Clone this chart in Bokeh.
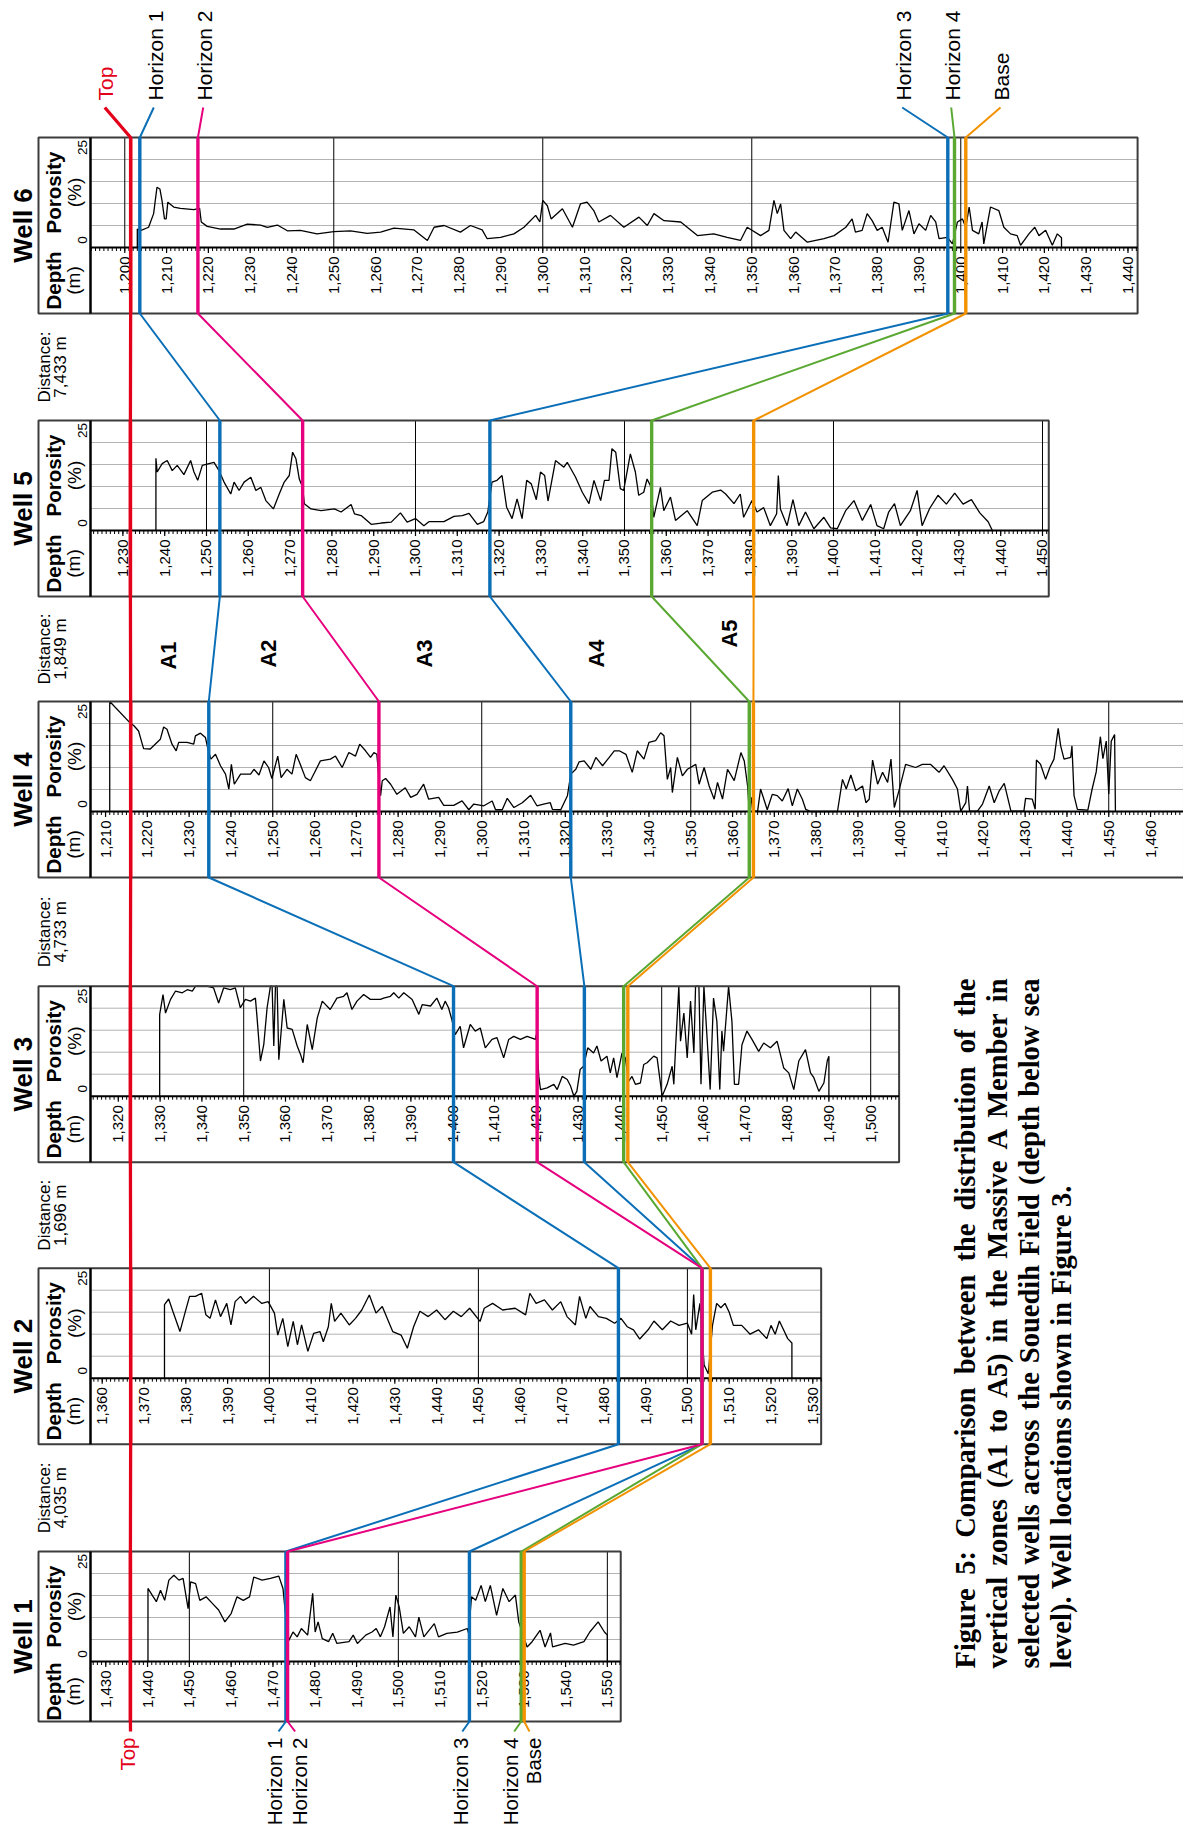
import math
from bokeh.plotting import figure
from bokeh.models import Range1d
from bokeh.embed import file_html
from bokeh.resources import INLINE
from bokeh.core.properties import value

# ----------------------------- data -----------------------------
well_names = ["Well 6", "Well 5", "Well 4", "Well 3", "Well 2", "Well 1"]
distance_labels = ["7,433 m", "1,849 m", "4,733 m", "1,696 m", "4,035 m"]
zone_labels = ["A1", "A2", "A3", "A4", "A5"]
horizon_labels = ["Top", "Horizon 1", "Horizon 2", "Horizon 3", "Horizon 4", "Base"]

# depth-axis extent of every log panel (m)
depth_start = [1191.8, 1222.25, 1206.4, 1313.35, 1357.2, 1426.35]
depth_end = [1442.3, 1451.5, 1468.0, 1506.8, 1532.0, 1553.2]

# horizon picks per well (Well 6 ... Well 1), depth in m
top_d = [1201.4, 1231.8, 1216.0, 1322.9, 1366.8, 1435.9]
h1_d = [1203.6, 1253.2, 1234.7, 1400.2, 1483.5, 1473.1]
h2_d = [1217.5, 1273.0, 1275.4, 1420.2, 1503.5, 1473.5]
h3_d = [1396.9, 1317.8, 1321.3, 1431.5, 1503.5, 1517.0]
h4_d = [1398.5, 1356.5, 1364.0, 1440.9, 1503.5, 1529.4]
base_d = [1401.2, 1380.9, 1365.0, 1441.9, 1505.5, 1530.1]

# porosity logs (depth m, porosity %)
w6_log = [(1203.0,0),(1203.0,4.2),(1203.9,3.9),(1205.7,4.6),(1206.9,7.7),(1207.7,13.7),(1208.4,13.3),(1208.9,10.7),(1209.5,6.5),(1209.9,6.5),(1210.3,10.3),(1211.7,9.2),(1213.3,8.9),(1214.6,8.8),(1216.5,8.6),(1217.9,8.9),(1218.3,5.8),(1219.7,4.8),(1222.9,4.2),(1226.1,4.2),(1229.3,5.3),(1232.5,5.1),(1234.1,4.6),(1236.5,5.1),(1238.9,3.8),(1242.0,3.9),(1246.0,3.1),(1250.0,3.6),(1254.0,3.8),(1258.0,3.2),(1261.2,3.5),(1264.4,4.4),(1269.2,4.0),(1272.4,1.6),(1274.0,4.6),(1276.4,5.0),(1280.3,3.5),(1282.7,5.0),(1285.5,4.0),(1286.7,2.0),(1289.9,2.3),(1293.1,3.1),(1295.5,4.6),(1298.3,7.3),(1299.3,5.8),(1300.0,10.7),(1301.1,9.5),(1302.0,6.5),(1304.7,8.8),(1307.1,4.6),(1309.0,9.9),(1310.6,10.3),(1312.2,8.4),(1313.4,5.8),(1316.2,7.3),(1319.4,4.6),(1323.0,6.9),(1325.0,5.0),(1326.6,7.7),(1329.0,6.1),(1333.0,5.8),(1337.0,2.7),(1340.9,3.1),(1344.1,2.3),(1347.3,1.6),(1348.9,4.6),(1352.1,2.7),(1354.1,3.9),(1355.3,10.7),(1356.1,7.7),(1356.9,9.9),(1357.7,3.9),(1359.3,2.0),(1360.5,3.5),(1363.3,1.2),(1367.3,2.0),(1369.7,2.7),(1372.5,4.6),(1374.0,6.5),(1374.8,3.5),(1376.4,3.9),(1377.6,7.7),(1378.8,6.1),(1380.0,3.9),(1381.2,4.6),(1382.6,1.2),(1384.0,10.3),(1385.2,9.9),(1386.0,3.9),(1387.6,8.4),(1388.8,3.1),(1390.0,5.4),(1391.6,3.9),(1392.8,7.3),(1394.0,5.8),(1394.8,2.0),(1396.8,2.3),(1398.0,0.8),(1399.2,5.8),(1400.4,6.5),(1401.2,4.6),(1402.0,9.2),(1402.8,3.9),(1404.3,3.1),(1405.1,5.8),(1405.5,0.8),(1407.1,9.2),(1409.1,8.4),(1410.3,4.6),(1411.9,3.1),(1413.5,2.7),(1414.3,0.5),(1416.3,3.1),(1417.7,4.6),(1418.7,2.7),(1420.3,3.9),(1421.9,0.5),(1423.1,3.1),(1424.1,2.2),(1424.1,0)]
w5_log = [(1237.9,0),(1237.9,16.4),(1238.2,13.3),(1239.4,15.2),(1240.6,15.9),(1241.8,13.6),(1243.0,14.8),(1244.6,12.7),(1246.2,15.9),(1247.0,13.3),(1247.9,11.4),(1249.0,14.8),(1250.6,15.2),(1251.8,15.5),(1253.0,13.6),(1254.2,11.0),(1255.8,8.3),(1256.6,11.0),(1257.8,9.1),(1259.0,11.0),(1260.6,12.1),(1261.8,9.1),(1263.0,9.8),(1264.2,6.8),(1266.0,4.9),(1267.4,8.3),(1268.6,11.0),(1269.8,12.5),(1270.6,17.8),(1271.4,16.3),(1272.2,11.7),(1273.0,9.8),(1273.4,6.1),(1275.0,4.9),(1277.4,4.5),(1280.6,4.9),(1282.2,4.2),(1284.6,5.9),(1285.4,3.8),(1287.0,3.4),(1289.4,1.4),(1291.8,1.7),(1294.2,1.9),(1296.4,4.0),(1298.0,1.9),(1300.0,2.7),(1302.0,1.1),(1303.2,2.0),(1306.8,2.0),(1309.2,3.2),(1311.2,3.4),(1312.8,3.9),(1314.8,1.4),(1316.3,2.0),(1317.3,4.2),(1318.3,11.0),(1319.5,11.4),(1320.7,12.5),(1321.8,5.3),(1323.1,2.7),(1324.3,7.2),(1325.5,2.7),(1326.6,11.4),(1327.7,10.6),(1328.9,7.0),(1329.9,13.3),(1330.9,12.5),(1331.7,6.7),(1333.5,15.9),(1335.5,14.4),(1336.3,15.5),(1338.3,12.1),(1339.9,8.7),(1341.5,6.1),(1342.7,11.4),(1344.3,6.8),(1345.2,11.4),(1346.3,11.4),(1347.0,18.6),(1347.9,17.8),(1349.0,9.5),(1349.8,9.1),(1351.4,17.4),(1352.6,13.3),(1353.4,8.0),(1354.6,8.7),(1355.4,11.7),(1356.2,10.2),(1357.0,3.0),(1358.6,9.8),(1359.4,4.5),(1361.0,7.6),(1362.2,2.3),(1365.0,4.5),(1367.4,1.1),(1368.6,6.8),(1371.0,8.7),(1373.0,9.2),(1374.2,8.3),(1376.2,6.1),(1377.7,8.3),(1378.5,3.0),(1380.5,6.8),(1381.7,4.2),(1383.3,5.2),(1384.9,1.1),(1386.4,3.8),(1386.8,12.5),(1387.3,4.9),(1388.9,1.1),(1390.3,7.0),(1391.7,1.1),(1393.3,4.2),(1395.3,0.4),(1397.7,3.0),(1399.3,0.6),(1400.9,0.4),(1402.9,4.5),(1404.9,6.8),(1406.9,2.3),(1408.9,5.9),(1410.4,1.1),(1412.0,0.4),(1413.2,4.2),(1414.6,6.1),(1416.0,1.1),(1418.4,4.5),(1420.0,9.1),(1421.2,1.1),(1423.0,5.0),(1425.0,8.0),(1427.0,6.0),(1429.0,8.5),(1431.0,6.0),(1433.0,7.0),(1435.0,4.0),(1437.0,2.0),(1438.0,0)]
w4_log = [(1211.0,0),(1211.0,25.0),(1215.8,20.2),(1216.8,19.5),(1217.9,18.3),(1219.1,14.3),(1220.7,14.2),(1222.3,15.7),(1223.1,16.4),(1223.9,19.2),(1224.7,18.7),(1225.9,15.3),(1226.9,13.8),(1227.5,15.7),(1229.5,15.7),(1231.1,15.3),(1231.5,17.2),(1232.7,17.8),(1233.9,16.8),(1234.5,14.2),(1235.2,11.9),(1236.3,13.0),(1237.5,10.4),(1238.7,8.5),(1239.5,5.1),(1240.1,10.7),(1240.8,6.2),(1242.3,8.5),(1244.7,8.5),(1245.5,9.6),(1246.7,8.3),(1247.9,11.5),(1249.0,10.0),(1249.8,7.5),(1251.2,12.6),(1252.0,7.7),(1253.4,9.6),(1254.6,8.5),(1255.6,13.0),(1256.6,10.7),(1257.8,7.7),(1259.0,7.0),(1261.4,11.5),(1263.8,11.9),(1265.0,12.6),(1266.6,10.0),(1268.2,13.4),(1269.8,12.6),(1270.8,15.3),(1272.2,13.8),(1273.4,12.3),(1274.2,13.4),(1274.9,13.0),(1275.8,3.6),(1276.2,7.0),(1277.0,7.5),(1278.2,6.2),(1279.7,3.9),(1281.7,5.4),(1283.0,3.2),(1284.5,3.9),(1286.1,6.2),(1287.3,2.8),(1289.7,3.2),(1290.9,1.4),(1293.3,1.4),(1295.3,2.4),(1296.9,0.4),(1298.1,1.7),(1300.5,1.3),(1302.5,2.4),(1303.3,0.4),(1304.9,0.4),(1306.1,3.0),(1307.7,0.9),(1309.7,2.0),(1311.7,3.7),(1313.2,1.3),(1314.8,1.7),(1316.4,2.0),(1316.9,0.5),(1318.9,0.4),(1320.5,3.6),(1321.3,8.5),(1322.5,9.6),(1323.3,11.3),(1324.5,11.5),(1326.1,9.6),(1327.3,12.3),(1328.9,10.4),(1330.5,12.3),(1331.7,13.8),(1332.9,13.8),(1334.5,13.0),(1336.0,8.9),(1337.2,13.8),(1338.8,11.9),(1340.0,15.7),(1341.6,16.1),(1342.8,17.9),(1343.6,17.2),(1344.4,7.3),(1345.2,10.0),(1345.6,4.3),(1346.8,12.3),(1348.0,8.1),(1349.2,9.6),(1351.2,10.7),(1352.0,6.2),(1353.2,10.0),(1354.4,5.8),(1355.6,2.8),(1356.4,6.6),(1357.6,2.8),(1358.8,9.6),(1360.4,7.0),(1362.0,13.4),(1362.8,11.5),(1363.6,5.8),(1364.0,0.1),(1364.5,3.2),(1364.8,0.1),(1366.0,0.1),(1366.7,5.1),(1367.5,2.8),(1368.3,0.4),(1369.5,3.9),(1370.7,3.6),(1371.9,2.4),(1373.3,5.2),(1374.3,1.3),(1375.5,5.1),(1376.7,2.8),(1377.5,0.5),(1378.7,0),(1385.1,0),(1386.3,7.3),(1387.2,5.1),(1388.3,8.3),(1389.5,4.7),(1391.1,5.8),(1391.9,2.0),(1392.7,2.8),(1393.5,11.7),(1394.7,6.2),(1395.9,8.9),(1397.1,6.6),(1397.9,11.9),(1398.7,0.9),(1399.8,4.7),(1401.4,10.7),(1403.8,10.0),(1405.4,10.7),(1407.4,10.7),(1409.4,8.9),(1410.6,10.4),(1412.6,7.3),(1413.8,5.1),(1414.6,0.1),(1415.8,2.0),(1416.2,5.8),(1416.7,0.1),(1418.6,0.1),(1419.8,1.7),(1421.4,5.8),(1422.6,2.0),(1423.8,4.7),(1425.0,6.4),(1426.6,0.1),(1429.7,0.1),(1430.1,3.0),(1431.7,2.8),(1432.4,0.5),(1432.7,11.7),(1433.7,10.7),(1434.9,7.3),(1435.9,10.0),(1436.9,11.9),(1437.9,18.9),(1438.5,14.9),(1439.3,11.9),(1440.9,12.3),(1441.2,14.9),(1441.7,3.6),(1442.5,0.5),(1445.0,0.3),(1446.0,5.0),(1447.0,9.0),(1448.0,17.0),(1448.6,12.0),(1449.4,16.0),(1450.0,4.0),(1450.6,16.0),(1451.4,17.5),(1451.6,0)]
w3_log = [(1329.9,0),(1329.9,18.6),(1330.7,23.1),(1331.3,18.9),(1332.5,22.0),(1333.7,23.9),(1335.3,23.5),(1336.5,24.2),(1337.7,23.9),(1338.5,25.0),(1341.2,25.0),(1342.8,24.6),(1344.0,21.2),(1345.2,24.6),(1346.8,24.2),(1348.0,24.6),(1349.2,20.1),(1350.4,22.0),(1351.6,21.6),(1352.8,22.3),(1353.2,17.8),(1354.0,8.0),(1354.8,11.7),(1355.6,20.1),(1356.4,25.0),(1356.8,25.0),(1357.2,11.4),(1357.6,25.0),(1358.0,25.0),(1358.4,8.3),(1359.6,22.0),(1360.4,15.5),(1361.6,15.2),(1362.8,11.4),(1363.6,9.5),(1364.2,7.6),(1365.2,16.3),(1366.4,10.6),(1367.6,17.8),(1368.8,21.6),(1370.7,19.7),(1372.3,22.3),(1373.9,22.7),(1374.7,23.5),(1375.9,19.7),(1377.1,21.6),(1378.7,23.1),(1380.3,22.0),(1382.7,22.0),(1383.5,22.3),(1385.1,22.7),(1385.9,23.5),(1387.1,22.3),(1388.3,23.5),(1390.3,22.0),(1391.9,18.6),(1392.7,20.8),(1394.7,20.5),(1396.2,22.3),(1397.4,19.7),(1398.2,21.6),(1399.0,20.1),(1399.8,17.4),(1400.6,14.0),(1401.8,15.9),(1402.6,11.0),(1404.2,16.3),(1405.4,14.8),(1406.6,15.5),(1407.8,11.0),(1409.4,12.9),(1410.6,13.3),(1412.2,8.7),(1413.4,12.9),(1414.6,13.6),(1416.2,12.9),(1417.8,13.6),(1419.8,12.9),(1420.0,14.0),(1420.6,4.5),(1421.0,1.5),(1422.6,1.9),(1424.2,2.7),(1425.0,1.5),(1426.2,4.5),(1427.4,3.8),(1428.2,2.3),(1429.0,0),(1429.7,1.1),(1430.5,6.1),(1431.3,6.8),(1432.3,11.0),(1433.7,9.8),(1434.5,11.4),(1435.5,8.0),(1436.9,9.1),(1437.7,5.3),(1438.5,8.7),(1439.3,4.2),(1440.5,9.8),(1441.3,8.7),(1442.1,3.4),(1442.9,4.5),(1443.7,2.7),(1444.9,3.0),(1445.7,7.2),(1446.5,7.6),(1448.1,9.1),(1448.9,8.7),(1450.1,0),(1451.3,2.7),(1452.5,6.8),(1452.9,2.7),(1453.3,10.6),(1454.1,25.0),(1454.5,12.5),(1455.3,18.9),(1456.1,8.7),(1456.9,21.6),(1457.7,9.8),(1458.1,25.0),(1458.9,25.0),(1459.4,2.7),(1460.1,25.0),(1460.9,12.5),(1461.6,1.5),(1462.4,22.3),(1463.2,17.0),(1463.9,1.5),(1464.4,14.8),(1464.8,10.2),(1466.0,25.0),(1466.8,17.0),(1467.4,2.7),(1468.4,2.7),(1469.2,11.7),(1470.4,14.8),(1471.6,12.9),(1473.2,10.2),(1474.4,12.1),(1476.0,11.0),(1477.6,12.5),(1479.2,6.4),(1480.4,5.3),(1481.6,1.5),(1482.8,8.0),(1484.4,10.6),(1485.6,5.3),(1486.4,4.2),(1487.6,1.1),(1488.8,3.0),(1489.6,8.0),(1490.0,9.1),(1490.0,0)]
w2_log = [(1374.9,0),(1374.9,16.7),(1375.9,18.0),(1376.9,15.2),(1378.6,10.6),(1379.9,15.2),(1380.9,18.6),(1382.3,18.6),(1383.8,19.3),(1384.8,14.4),(1385.8,13.6),(1387.1,17.8),(1388.3,14.0),(1389.8,17.0),(1390.8,12.1),(1391.8,17.4),(1393.1,18.6),(1394.3,17.0),(1396.2,18.6),(1398.2,17.0),(1399.7,17.4),(1401.2,14.8),(1402.0,9.8),(1403.2,13.6),(1404.4,7.2),(1405.7,12.9),(1406.7,7.6),(1407.7,12.1),(1409.2,6.1),(1410.6,10.2),(1412.1,10.6),(1412.9,8.3),(1414.1,11.7),(1414.8,17.0),(1415.6,12.9),(1417.1,14.8),(1419.1,12.1),(1420.6,13.6),(1422.1,15.5),(1423.9,18.9),(1425.5,14.8),(1427.0,16.3),(1429.5,10.6),(1431.5,9.8),(1433.0,6.8),(1434.5,11.7),(1436.0,15.2),(1438.0,14.0),(1440.0,15.5),(1442.0,13.3),(1444.0,15.2),(1445.9,14.0),(1447.9,15.9),(1450.4,12.9),(1451.4,15.9),(1453.4,17.0),(1455.8,15.5),(1458.8,15.9),(1461.3,14.4),(1462.3,19.3),(1463.8,17.0),(1465.8,17.8),(1467.7,15.5),(1469.7,17.4),(1471.2,14.0),(1473.2,12.1),(1474.2,18.6),(1475.7,13.6),(1476.7,16.3),(1478.7,14.0),(1480.6,13.6),(1482.6,12.5),(1484.1,13.6),(1485.6,11.7),(1487.1,11.0),(1488.6,8.9),(1490.6,11.0),(1492.0,13.0),(1494.0,11.0),(1496.0,13.0),(1498.0,12.0),(1500.0,12.5),(1501.0,10.0),(1501.5,19.0),(1502.0,11.0),(1503.0,17.0),(1504.0,3.0),(1505.0,1.0),(1506.0,12.0),(1507.0,17.0),(1508.0,16.0),(1509.0,17.0),(1510.0,15.0),(1511.0,12.0),(1513.0,12.0),(1515.0,10.0),(1517.0,11.0),(1519.0,9.0),(1520.0,12.0),(1521.0,10.0),(1522.0,13.0),(1523.0,11.0),(1524.0,9.0),(1525.0,8.0),(1525.0,0)]
w1_log = [(1440.1,0),(1440.1,16.6),(1441.1,15.1),(1442.1,13.6),(1443.1,16.2),(1444.1,13.9),(1445.1,18.5),(1446.3,19.6),(1447.5,18.5),(1448.5,18.9),(1449.7,12.0),(1450.3,18.1),(1451.5,17.7),(1452.5,13.9),(1454.0,14.7),(1455.5,13.2),(1457.0,11.7),(1458.5,9.0),(1460.0,10.9),(1461.4,14.7),(1462.9,13.9),(1464.4,14.7),(1465.4,19.2),(1467.4,18.5),(1469.4,18.9),(1471.4,19.4),(1472.4,16.6),(1472.9,11.7),(1473.8,4.8),(1474.8,6.7),(1475.8,5.6),(1476.8,7.5),(1478.3,6.0),(1479.5,15.5),(1480.1,6.7),(1480.8,9.0),(1481.8,5.2),(1483.3,4.5),(1484.3,6.4),(1485.3,4.1),(1488.2,4.5),(1489.2,6.0),(1490.2,4.1),(1492.2,6.0),(1493.7,6.7),(1494.7,7.5),(1495.7,5.6),(1496.7,7.9),(1498.0,12.4),(1498.7,5.6),(1499.4,15.1),(1500.2,12.4),(1501.2,6.4),(1502.6,7.9),(1504.1,5.6),(1504.9,10.1),(1506.1,5.6),(1508.6,8.6),(1509.6,5.6),(1511.6,6.4),(1514.1,6.7),(1516.5,7.5),(1516.8,6.4),(1517.5,14.7),(1518.5,13.9),(1519.8,17.3),(1520.8,13.6),(1522.0,17.3),(1523.5,10.5),(1525.0,16.6),(1526.5,13.6),(1528.0,15.1),(1528.8,9.0),(1530.8,3.3),(1532.0,4.5),(1533.9,7.1),(1535.1,3.3),(1536.4,6.5),(1536.9,3.3),(1539.9,4.1),(1541.9,3.7),(1544.4,4.5),(1545.8,6.7),(1547.8,9.0),(1549.3,6.7),(1550.0,6.0),(1550.0,0)]

caption_lines = [
    "Figure 5: Comparison between the distribution of the",
    "vertical zones (A1 to A5) in the Massive A Member in",
    "selected wells across the Souedih Field (depth below sea",
    "level). Well locations shown in Figure 3.",
]

# ----------------------------- layout -----------------------------
PX_M = 4.18          # px per metre of depth
PX_P = 4.4           # px per porosity %
X_BOX, X_IN = 38, 90
well_top = [137, 420, 701, 985.7, 1267.7, 1551]
H_POR = 110
h_dep = [66, 66, 66, 66, 66, 60]
W, H = 1183, 1829

RED, BLUE, PINK, GREEN, ORANGE = "#e2001a", "#0b6fb8", "#e6007e", "#5aa832", "#f39200"
SANS = value("Liberation Sans")

p = figure(width=W, height=H, x_range=Range1d(0, W), y_range=Range1d(H, 0),
           output_backend="svg", toolbar_location=None, min_border=0,
           x_axis_location=None, y_axis_location=None)
p.outline_line_color = None
p.grid.grid_line_color = None
p.background_fill_color = "white"
p.border_fill_color = "white"


def xpage(i, d):
    return X_IN + (d - depth_start[i]) * PX_M


logs = [w6_log, w5_log, w4_log, w3_log, w2_log, w1_log]
HALF = math.pi / 2
w_bot = [well_top[i] + H_POR + h_dep[i] for i in range(6)]

for i in range(6):
    ds, de = depth_start[i], depth_end[i]
    top = well_top[i]
    pb = top + H_POR
    bot = w_bot[i]
    xr, yr = f"d{i}", f"p{i}"
    p.extra_x_ranges[xr] = Range1d(ds + (0 - X_IN) / PX_M, ds + (W - X_IN) / PX_M)
    p.extra_y_ranges[yr] = Range1d((pb - H) / PX_P, (pb - 0) / PX_P)

    # grey porosity grid
    gv = [5, 10, 15, 20]
    p.segment(x0=[ds] * 4, x1=[de] * 4, y0=gv, y1=gv, line_color="#b3b3b3", line_width=1,
              x_range_name=xr, y_range_name=yr)
    # black depth grid every 50 m
    g50 = [d for d in range(int(math.ceil(ds / 50.0)) * 50, int(de) + 1, 50)]
    p.segment(x0=g50, x1=g50, y0=[0] * len(g50), y1=[25] * len(g50), line_color="black",
              line_width=1, x_range_name=xr, y_range_name=yr)
    # porosity log
    lx = [a for a, b in logs[i]]
    ly = [b for a, b in logs[i]]
    p.line(lx, ly, line_color="black", line_width=1.3, x_range_name=xr, y_range_name=yr)

    # frame
    xr_end = xpage(i, de)
    p.quad(left=[X_BOX], right=[xr_end], top=[top], bottom=[bot], fill_color=None,
           line_color="#3c3c3c", line_width=2)
    p.segment(x0=[X_IN], x1=[xr_end], y0=[pb], y1=[pb], line_color="black", line_width=2)
    p.segment(x0=[X_IN], x1=[X_IN], y0=[top], y1=[bot], line_color="black", line_width=2.5)

    # depth ticks
    minor = [d for d in range(int(math.ceil(ds)), int(de) + 1)]
    major = [d for d in minor if d % 10 == 0]
    p.segment(x0=minor, x1=minor, y0=[pb] * len(minor), y1=[pb + 3.5] * len(minor),
              line_color="black", line_width=1, x_range_name=xr)
    p.segment(x0=major, x1=major, y0=[pb] * len(major), y1=[pb + 5.5] * len(major),
              line_color="black", line_width=1.2, x_range_name=xr)
    p.text(x=major, y=[pb + 9] * len(major), text=[f"{d:,}" for d in major], angle=HALF,
           text_align="right", text_baseline="middle", text_font=SANS,
           text_font_size="15px", text_color="black", x_range_name=xr)

    # panel labels
    p.text(x=[22.5], y=[(top + bot) / 2], text=[well_names[i]], angle=HALF,
           text_align="center", text_baseline="middle", text_font=SANS,
           text_font_size="26px", text_font_style="bold", text_color="black")
    p.text(x=[53, 53], y=[top + H_POR / 2, (pb + bot) / 2], text=["Porosity", "Depth"],
           angle=HALF, text_align="center", text_baseline="middle", text_font=SANS,
           text_font_size="20.5px", text_font_style="bold", text_color="black")
    p.text(x=[73.5, 72.5], y=[top + H_POR / 2, (pb + bot) / 2], text=["(%)", "(m)"],
           angle=HALF, text_align="center", text_baseline="middle", text_font=SANS,
           text_font_size="19px", text_color="black")
    p.text(x=[81.5, 81.5], y=[pb - 7.5, top + 10], text=["0", "25"], angle=HALF,
           text_align="center", text_baseline="middle", text_font=SANS,
           text_font_size="13.5px", text_color="black")

# distance labels in the gaps
for i in range(5):
    gap_mid = (w_bot[i] + well_top[i + 1]) / 2
    p.text(x=[44, 59.5], y=[gap_mid, gap_mid], text=["Distance:", distance_labels[i]],
           angle=HALF, text_align="center", text_baseline="middle", text_font=SANS,
           text_font_size="17px", text_color="black")

# zone labels
zone_x = [167.5, 268, 424, 596, 729]
zone_y = [655, 653, 653, 653, 633]
p.text(x=zone_x, y=zone_y, text=zone_labels, angle=HALF, text_align="center",
       text_baseline="middle", text_font=SANS, text_font_size="22px",
       text_font_style="bold", text_color="black")

# horizons
hz = [top_d, h1_d, h2_d, h3_d, h4_d, base_d]
hcol = [RED, BLUE, PINK, BLUE, GREEN, ORANGE]
lead_top_x = [104.3, 153.3, 202.7, 901.7, 950.7, 1000]
lab_top_x = [105, 155, 204, 903, 952, 1001]
lead_bot_x = [130, 278, 294.6, 461.8, 513.7, 529]
lab_bot_x = [126.6, 273.9, 298.8, 459.8, 510.4, 533.2]

for k in [0, 1, 3, 4, 2, 5]:
    xs, ys = [lead_top_x[k]], [107]
    for i in range(6):
        xp = xpage(i, hz[k][i])
        xs += [xp, xp]
        ys += [well_top[i], w_bot[i]]
    xs.append(lead_bot_x[k])
    ys.append(w_bot[5] + 10)
    p.line(xs, ys, line_color=hcol[k], line_width=3.3 if k == 0 else 2.0)
    vx = [xpage(i, hz[k][i]) for i in range(6)]
    p.segment(x0=vx, x1=vx, y0=well_top, y1=w_bot, line_color=hcol[k], line_width=3.4)

tcol = [RED, "black", "black", "black", "black", "black"]
p.text(x=lab_top_x, y=[100] * 6, text=horizon_labels, angle=HALF, text_align="left",
       text_baseline="middle", text_font=SANS, text_font_size="21px", text_color=tcol)
p.text(x=lab_bot_x, y=[w_bot[5] + 16] * 6, text=horizon_labels, angle=HALF,
       text_align="right", text_baseline="middle", text_font=SANS, text_font_size="20.5px",
       text_color=tcol)

# caption (justified, rotated)
TB = {' ': 250, '(': 333, ')': 333, ',': 250, '.': 250, ':': 333, 'A': 722, 'C': 722,
      'F': 611, 'M': 944, 'S': 556, 'W': 1000, 'a': 500, 'b': 556, 'c': 444, 'd': 556,
      'e': 444, 'f': 333, 'g': 500, 'h': 556, 'i': 278, 'l': 278, 'm': 833, 'n': 556,
      'o': 500, 'p': 556, 'r': 444, 's': 389, 't': 333, 'u': 556, 'v': 500, 'w': 722,
      'z': 444}
CAP_FS = 28.5
cap_x = [965, 997, 1029, 1061]
cap_y0, cap_y1 = 1668, 978
cw_x, cw_y, cw_t = [], [], []
for j, line in enumerate(caption_lines):
    words = line.split(" ")
    widths = [sum(TB.get(c, 500) for c in w) / 1000 * CAP_FS for w in words]
    if j < len(caption_lines) - 1:
        gap = ((cap_y0 - cap_y1) - sum(widths)) / (len(words) - 1)
    else:
        gap = 0.25 * CAP_FS
    pos = cap_y0
    for w, wd in zip(words, widths):
        cw_x.append(cap_x[j])
        cw_y.append(pos)
        cw_t.append(w)
        pos -= wd + gap
p.text(x=cw_x, y=cw_y, text=cw_t, angle=HALF, text_align="left", text_baseline="middle",
       text_font=value("Liberation Serif"), text_font_size=f"{CAP_FS}px",
       text_font_style="bold", text_color="black")

open("out.html", "w").write(file_html(p, INLINE))
